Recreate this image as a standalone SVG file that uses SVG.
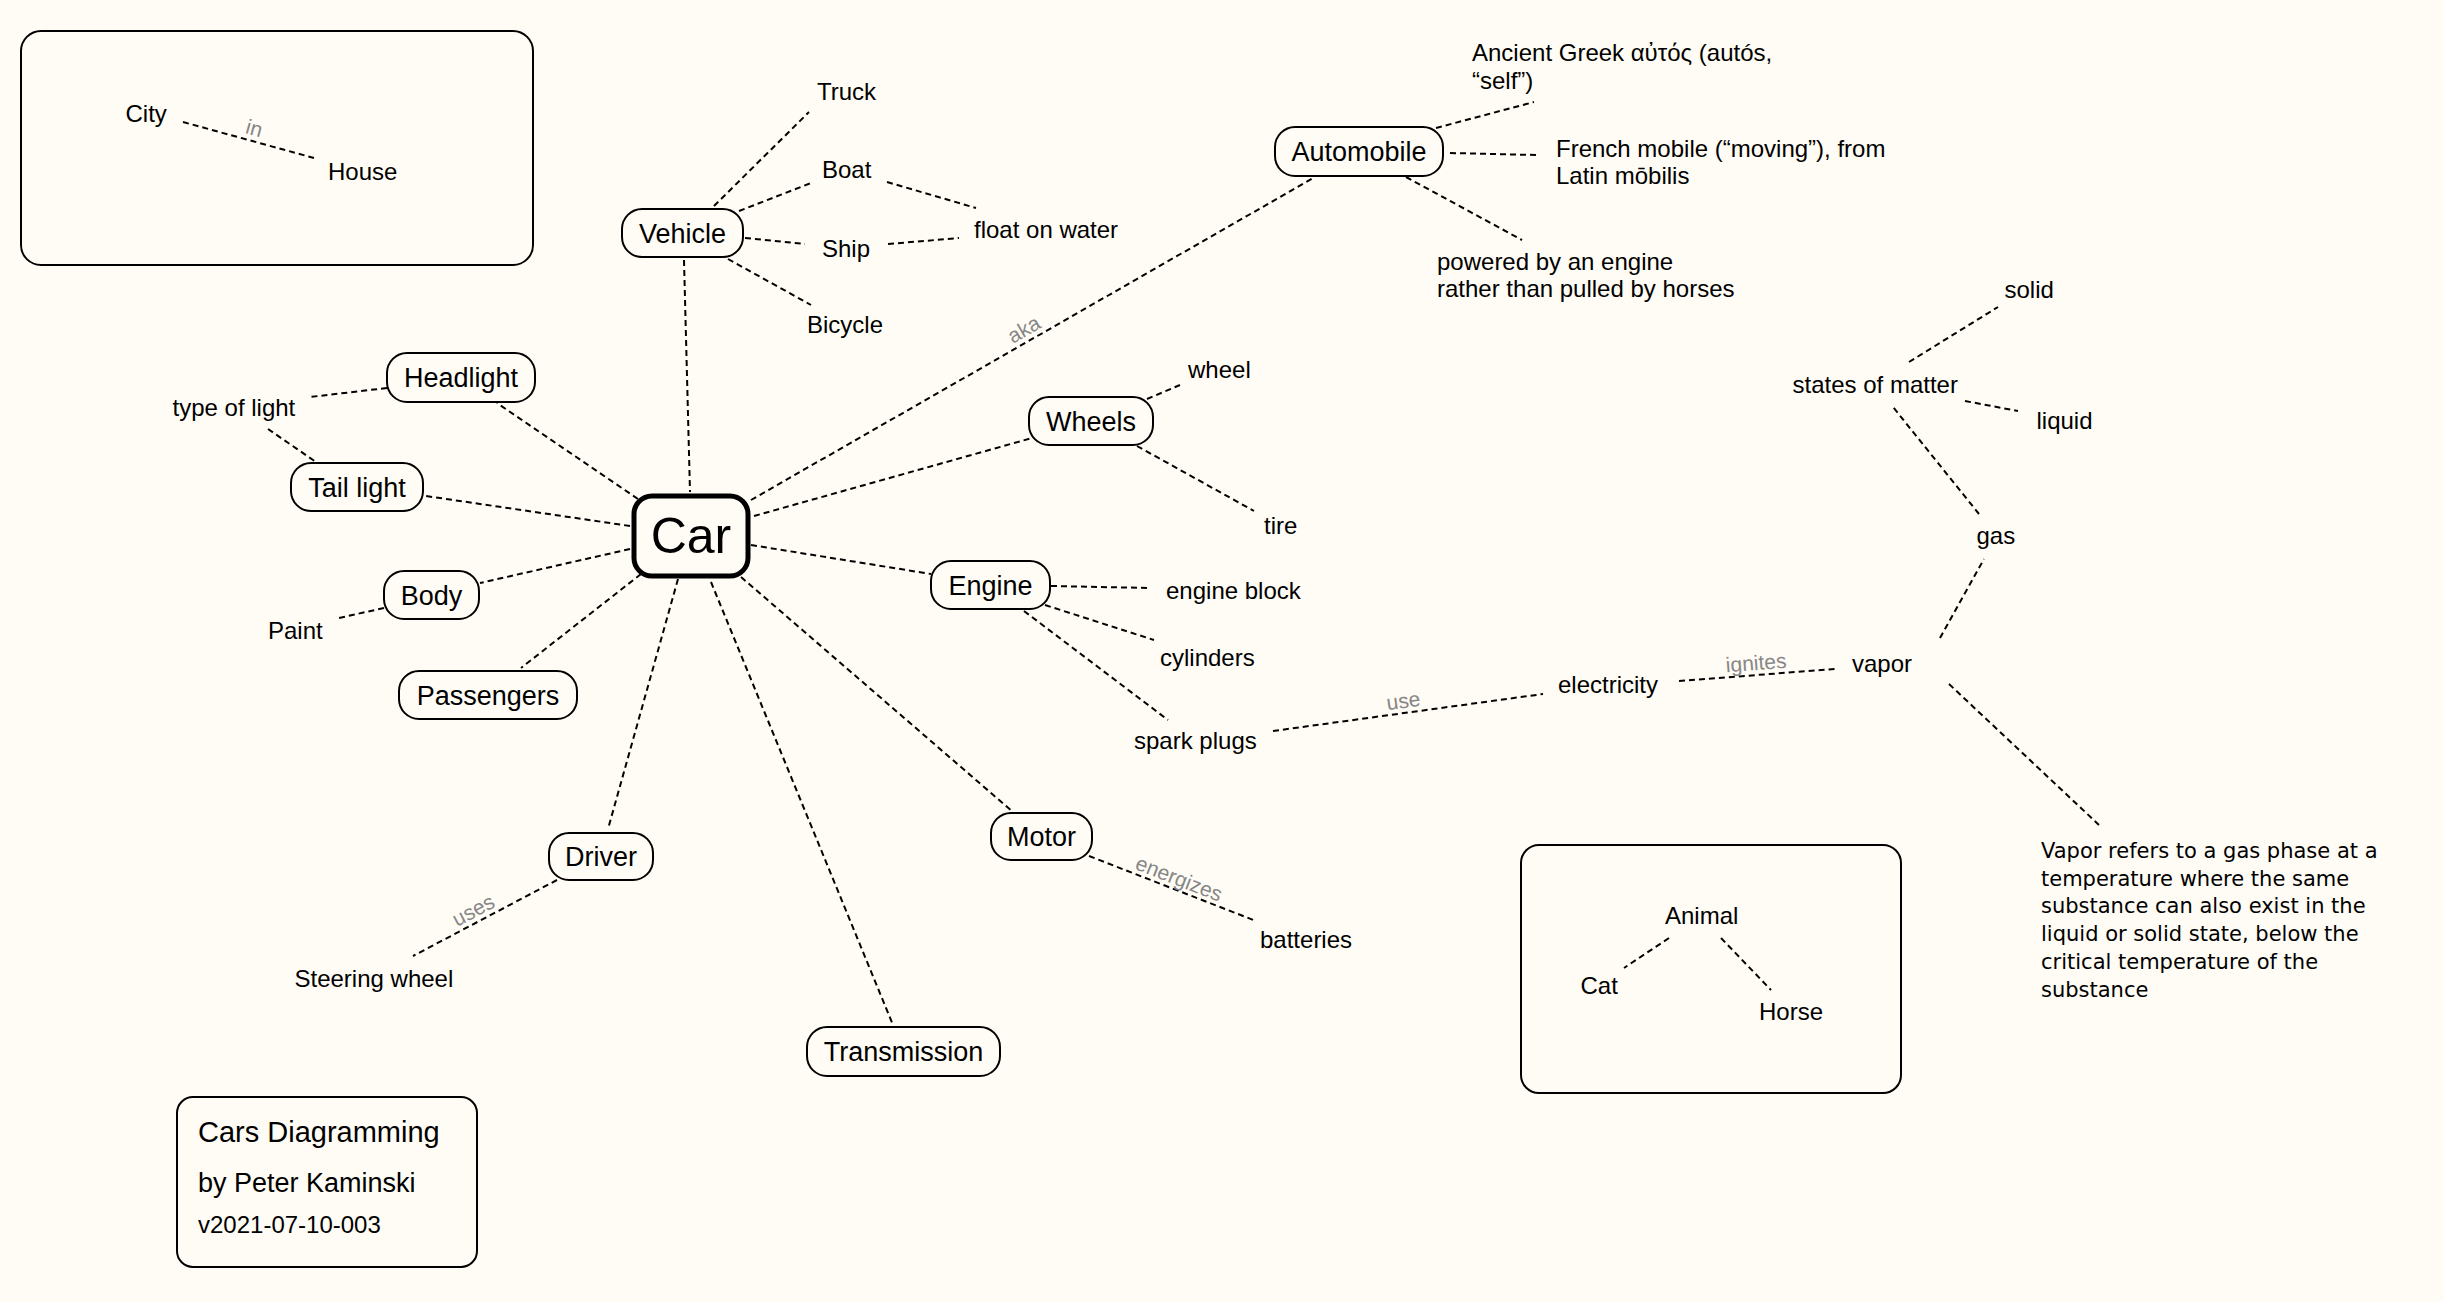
<svg xmlns="http://www.w3.org/2000/svg" width="2444" height="1302" viewBox="0 0 2444 1302">
<style>
.bg{fill:#fffcf5}
.n rect,.frame{fill:#fffcf5;stroke:#000;stroke-width:2}
text{font-family:"Liberation Sans",Arial,Helvetica,sans-serif;fill:#000}
.t{font-size:24px}
.nt{font-size:27px;text-anchor:middle}
.para{font-family:"DejaVu Sans",Verdana,sans-serif;font-size:21px}
.c line{stroke:#000;stroke-width:2;stroke-dasharray:6 4;fill:none}
.lbl{font-size:21px;fill:#878787;text-anchor:middle}
</style>
<rect class="bg" x="0" y="0" width="2444" height="1302"/>

<!-- frames -->
<g id="frame-city">
<rect class="frame" x="21" y="31" width="512" height="234" rx="20"/>
</g>
<g id="frame-animal">
<rect class="frame" x="1521" y="845" width="380" height="248" rx="18"/>
</g>
<g id="frame-title">
<rect class="frame" x="177" y="1097" width="300" height="170" rx="16"/>
<text x="198" y="1142" style="font-size:29px">Cars Diagramming</text>
<text x="198" y="1192" style="font-size:27px">by Peter Kaminski</text>
<text x="198" y="1233" style="font-size:24px">v2021-07-10-003</text>
</g>

<!-- connectors -->
<g id="connectors" class="c">
<line x1="183" y1="122" x2="314" y2="158"/>
<line x1="714" y1="206" x2="809" y2="112"/>
<line x1="739" y1="211" x2="811" y2="183"/>
<line x1="745" y1="238" x2="805" y2="244"/>
<line x1="728" y1="259" x2="811" y2="305"/>
<line x1="887" y1="182" x2="976" y2="208"/>
<line x1="888" y1="244" x2="959" y2="238"/>
<line x1="684" y1="260" x2="690" y2="492"/>
<line x1="751" y1="500" x2="1315" y2="177"/>
<line x1="1436" y1="128" x2="1534" y2="102"/>
<line x1="1450" y1="153" x2="1536" y2="155"/>
<line x1="1406" y1="177" x2="1522" y2="240"/>
<line x1="754" y1="516" x2="1032" y2="438"/>
<line x1="1147" y1="399" x2="1180" y2="385"/>
<line x1="1137" y1="446" x2="1254" y2="511"/>
<line x1="751" y1="545" x2="931" y2="574"/>
<line x1="1051" y1="586" x2="1150" y2="588"/>
<line x1="1045" y1="605" x2="1154" y2="640"/>
<line x1="1024" y1="611" x2="1168" y2="720"/>
<line x1="1273" y1="731" x2="1543" y2="694"/>
<line x1="1679" y1="681" x2="1835" y2="669"/>
<line x1="1940" y1="638" x2="1984" y2="559"/>
<line x1="1979" y1="514" x2="1893" y2="407"/>
<line x1="1909" y1="362" x2="1998" y2="307"/>
<line x1="1965" y1="401" x2="2018" y2="411"/>
<line x1="1949" y1="684" x2="2099" y2="825"/>
<line x1="741" y1="577" x2="1013" y2="812"/>
<line x1="1089" y1="856" x2="1256" y2="921"/>
<line x1="711" y1="582" x2="893" y2="1025"/>
<line x1="678" y1="579" x2="608" y2="829"/>
<line x1="557" y1="880" x2="413" y2="956"/>
<line x1="641" y1="574" x2="521" y2="668"/>
<line x1="630" y1="549" x2="480" y2="583"/>
<line x1="384" y1="608" x2="339" y2="618"/>
<line x1="630" y1="526" x2="426" y2="496"/>
<line x1="638" y1="499" x2="497" y2="403"/>
<line x1="387" y1="388" x2="310" y2="397"/>
<line x1="268" y1="429" x2="316" y2="462"/>
<line x1="1669" y1="938" x2="1624" y2="968"/>
<line x1="1721" y1="938" x2="1771" y2="990"/>
<!-- labels -->
<text class="lbl" transform="translate(251,140) rotate(15.4)" y="-5">in</text>
<text class="lbl" transform="translate(1030,340) rotate(-29.9)" y="-5">aka</text>
<text class="lbl" transform="translate(479,921) rotate(-27.8)" y="-5">uses</text>
<text class="lbl" transform="translate(1405,713) rotate(-7.8)" y="-5">use</text>
<text class="lbl" transform="translate(1757,675) rotate(-4.4)" y="-5">ignites</text>
<text class="lbl" transform="translate(1175,889) rotate(21.4)" y="-4">energizes</text>
</g>

<!-- boxed nodes -->
<g id="car" class="n">
<rect x="634" y="496" width="114" height="80" rx="18" style="stroke-width:5"/>
<text x="691" y="553" style="font-size:50px;text-anchor:middle">Car</text>
</g>
<g id="vehicle" class="n">
<rect x="622" y="209" width="121" height="48" rx="20"/>
<text class="nt" x="682.5" y="242.5">Vehicle</text>
</g>
<g id="automobile" class="n">
<rect x="1275" y="127" width="168" height="49" rx="20"/>
<text class="nt" x="1359" y="161">Automobile</text>
</g>
<g id="headlight" class="n">
<rect x="387" y="353" width="148" height="49" rx="20"/>
<text class="nt" x="461" y="387">Headlight</text>
</g>
<g id="taillight" class="n">
<rect x="291" y="463" width="132" height="48" rx="20"/>
<text class="nt" x="357" y="496.5">Tail light</text>
</g>
<g id="body" class="n">
<rect x="384" y="571" width="95" height="48" rx="20"/>
<text class="nt" x="431.5" y="604.5">Body</text>
</g>
<g id="passengers" class="n">
<rect x="399" y="671" width="178" height="48" rx="20"/>
<text class="nt" x="488" y="704.5">Passengers</text>
</g>
<g id="driver" class="n">
<rect x="549" y="833" width="104" height="47" rx="20"/>
<text class="nt" x="601" y="866">Driver</text>
</g>
<g id="wheels" class="n">
<rect x="1029" y="397" width="124" height="48" rx="20"/>
<text class="nt" x="1091" y="430.5">Wheels</text>
</g>
<g id="engine" class="n">
<rect x="931" y="561" width="119" height="48" rx="20"/>
<text class="nt" x="990.5" y="594.5">Engine</text>
</g>
<g id="motor" class="n">
<rect x="991" y="813" width="101" height="47" rx="20"/>
<text class="nt" x="1041.5" y="846">Motor</text>
</g>
<g id="transmission" class="n">
<rect x="807" y="1027" width="193" height="49" rx="20"/>
<text class="nt" x="903.5" y="1061">Transmission</text>
</g>

<!-- plain text nodes -->
<g id="city"><text class="t" x="125.5" y="122">City</text></g>
<g id="house"><text class="t" x="328" y="180">House</text></g>
<g id="truck"><text class="t" x="817" y="100">Truck</text></g>
<g id="boat"><text class="t" x="822" y="178">Boat</text></g>
<g id="ship"><text class="t" x="822" y="257">Ship</text></g>
<g id="bicycle"><text class="t" x="807" y="333">Bicycle</text></g>
<g id="float"><text class="t" x="974" y="238">float on water</text></g>
<g id="greek"><text class="t" x="1472" y="61">Ancient Greek αὐτός (autós,<tspan x="1472" y="89">“self”)</tspan></text></g>
<g id="french"><text class="t" x="1556" y="157">French mobile (“moving”), from<tspan x="1556" y="184">Latin mōbilis</tspan></text></g>
<g id="powered"><text class="t" x="1437" y="270">powered by an engine<tspan x="1437" y="297">rather than pulled by horses</tspan></text></g>
<g id="wheel"><text class="t" x="1188" y="378">wheel</text></g>
<g id="tire"><text class="t" x="1264" y="534">tire</text></g>
<g id="engineblock"><text class="t" x="1166" y="599">engine block</text></g>
<g id="cylinders"><text class="t" x="1160" y="666">cylinders</text></g>
<g id="sparkplugs"><text class="t" x="1134" y="749">spark plugs</text></g>
<g id="electricity"><text class="t" x="1558" y="693">electricity</text></g>
<g id="vapor"><text class="t" x="1852" y="672">vapor</text></g>
<g id="gas"><text class="t" x="1976.5" y="544">gas</text></g>
<g id="states"><text class="t" x="1792.5" y="392.5">states of matter</text></g>
<g id="solid"><text class="t" x="2004.5" y="297.5">solid</text></g>
<g id="liquid"><text class="t" x="2036.5" y="428.5">liquid</text></g>
<g id="vapornote"><text class="para" x="2041" y="858">Vapor refers to a gas phase at a<tspan x="2041" y="885.7">temperature where the same</tspan><tspan x="2041" y="913.4">substance can also exist in the</tspan><tspan x="2041" y="941.1">liquid or solid state, below the</tspan><tspan x="2041" y="968.8">critical temperature of the</tspan><tspan x="2041" y="996.5">substance</tspan></text></g>
<g id="batteries"><text class="t" x="1260" y="948">batteries</text></g>
<g id="typeoflight"><text class="t" x="172.5" y="416">type of light</text></g>
<g id="paint"><text class="t" x="268" y="639">Paint</text></g>
<g id="steering"><text class="t" x="294.5" y="987">Steering wheel</text></g>
<g id="animal"><text class="t" x="1665" y="924">Animal</text></g>
<g id="cat"><text class="t" x="1580.5" y="994">Cat</text></g>
<g id="horse"><text class="t" x="1759" y="1020">Horse</text></g>
</svg>
